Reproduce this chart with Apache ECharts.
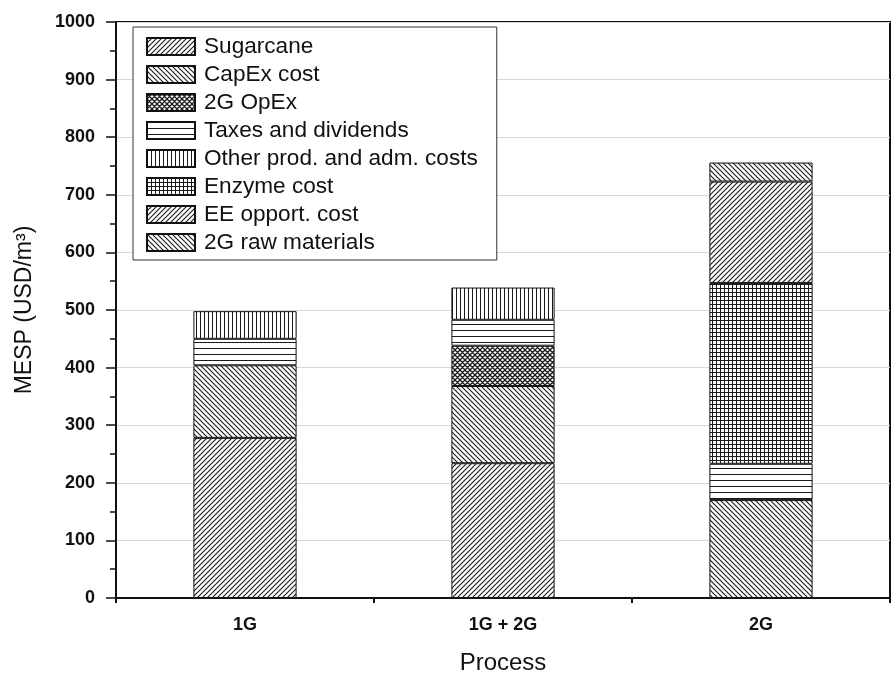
<!DOCTYPE html>
<html>
<head>
<meta charset="utf-8">
<script src="https://cdn.jsdelivr.net/npm/echarts@6/dist/echarts.min.js"></script>
<style>
html,body{margin:0;padding:0;background:#fff;}
#chart{width:892px;height:684px;}
</style>
</head>
<body>
<div id="chart"></div>
<script>
// ---- data ----
var categories = ['1G', '1G + 2G', '2G'];
var seriesNames = ['Sugarcane', 'CapEx cost', '2G OpEx', 'Taxes and dividends',
  'Other prod. and adm. costs', 'Enzyme cost', 'EE opport. cost', '2G raw materials'];
var sugarcane     = [278, 234, null];
var capexCost     = [126, 134, 170];
var opex2G        = [null, 70, null];
var taxesDiv      = [46, 45, 63];
var otherProdAdm  = [48, 56, null];
var enzymeCost    = [null, null, 314];
var eeOpportCost  = [null, null, 176];
var rawMaterials2G= [null, null, 33];
var yTicks = [0, 100, 200, 300, 400, 500, 600, 700, 800, 900, 1000];

// ---- hatch patterns ----
function makePattern(type) {
  var c = document.createElement('canvas');
  var ctx;
  var ink = '#1a1a1a';
  if (type === 'fwd' || type === 'back' || type === 'cross') {
    var s = 5;
    c.width = s; c.height = s;
    ctx = c.getContext('2d');
    ctx.fillStyle = '#fff'; ctx.fillRect(0, 0, s, s);
    ctx.strokeStyle = ink; ctx.lineWidth = type === 'cross' ? 1.3 : 1.1;
    ctx.beginPath();
    if (type === 'fwd' || type === 'cross') {
      ctx.moveTo(-1, s + 1); ctx.lineTo(s + 1, -1);
      ctx.moveTo(-1, 1); ctx.lineTo(1, -1);
      ctx.moveTo(s - 1, s + 1); ctx.lineTo(s + 1, s - 1);
    }
    if (type === 'back' || type === 'cross') {
      ctx.moveTo(-1, -1); ctx.lineTo(s + 1, s + 1);
      ctx.moveTo(s - 1, -1); ctx.lineTo(s + 1, 1);
      ctx.moveTo(-1, s - 1); ctx.lineTo(1, s + 1);
    }
    ctx.stroke();
  } else if (type === 'horiz') {
    c.width = 4; c.height = 6;
    ctx = c.getContext('2d');
    ctx.fillStyle = '#fff'; ctx.fillRect(0, 0, 4, 6);
    ctx.fillStyle = ink; ctx.fillRect(0, 0, 4, 1);
  } else if (type === 'vert') {
    c.width = 4; c.height = 4;
    ctx = c.getContext('2d');
    ctx.fillStyle = '#fff'; ctx.fillRect(0, 0, 4, 4);
    ctx.fillStyle = ink; ctx.fillRect(0, 0, 1, 4);
  } else if (type === 'grid') {
    c.width = 4; c.height = 4;
    ctx = c.getContext('2d');
    ctx.fillStyle = '#fff'; ctx.fillRect(0, 0, 4, 4);
    ctx.fillStyle = ink; ctx.fillRect(0, 0, 4, 1); ctx.fillRect(0, 0, 1, 4);
  }
  return { image: c, repeat: 'repeat' };
}

var patternTypes = ['fwd', 'back', 'cross', 'horiz', 'vert', 'grid', 'fwd', 'back'];
var seriesData = [sugarcane, capexCost, opex2G, taxesDiv, otherProdAdm, enzymeCost, eeOpportCost, rawMaterials2G];

var FONT = "'Liberation Sans', Arial, sans-serif";

var series = seriesNames.map(function (name, i) {
  return {
    name: name,
    type: 'bar',
    stack: 'total',
    xAxisIndex: 0,
    barWidth: '40%',
    data: seriesData[i],
    itemStyle: {
      color: makePattern(patternTypes[i]),
      borderColor: '#111',
      borderWidth: 1
    },
    emphasis: { disabled: true },
    animation: false
  };
});

var chart = echarts.init(document.getElementById('chart'), null, { renderer: 'canvas', devicePixelRatio: 1 });
chart.setOption({
  animation: false,
  backgroundColor: '#fff',
  grid: {
    left: 116, right: 2, top: 22, bottom: 86,
    show: true, borderColor: '#111', borderWidth: 2, backgroundColor: 'transparent'
  },
  legend: {
    orient: 'vertical',
    left: 133, top: 27,
    icon: 'rect',
    itemWidth: 48, itemHeight: 17,
    itemGap: 5,
    padding: [8, 19, 6, 13],
    borderColor: '#333', borderWidth: 1,
    backgroundColor: '#fff',
    selectedMode: false,
    data: seriesNames,
    textStyle: { fontFamily: FONT, fontSize: 22.6, color: '#111', lineHeight: 22, padding: [0, 0, 0, 4] }
  },
  xAxis: [{
    type: 'category',
    data: categories,
    position: 'bottom',
    name: 'Process',
    nameLocation: 'middle',
    nameGap: 53,
    nameTextStyle: { fontFamily: FONT, fontSize: 24, color: '#111' },
    axisLine: { lineStyle: { color: '#111', width: 2 } },
    axisTick: { alignWithLabel: true, length: 10, lineStyle: { color: '#111', width: 2 } },
    axisLabel: { fontFamily: FONT, fontSize: 18, fontWeight: 'bold', color: '#111', margin: 18 },
    splitLine: { show: false }
  }, {
    type: 'category',
    data: categories,
    position: 'bottom',
    axisLine: { show: false },
    axisTick: { show: true, length: 5, lineStyle: { color: '#111', width: 2 } },
    axisLabel: { show: false },
    splitLine: { show: false }
  }],
  yAxis: {
    type: 'value',
    min: yTicks[0], max: yTicks[yTicks.length - 1], interval: yTicks[1] - yTicks[0],
    name: 'MESP (USD/m³)',
    nameLocation: 'middle',
    nameGap: 80,
    nameTextStyle: { fontFamily: FONT, fontSize: 23, color: '#111' },
    axisLine: { show: true, lineStyle: { color: '#111', width: 2 } },
    axisTick: { show: true, length: 10, lineStyle: { color: '#111', width: 1.5 } },
    minorTick: { show: true, splitNumber: 2, length: 6, lineStyle: { color: '#111', width: 1.5 } },
    axisLabel: {
      fontFamily: FONT, fontSize: 18, fontWeight: 'bold', color: '#111', margin: 21,
      formatter: function (v) { return String(v); }
    },
    splitLine: { show: true, lineStyle: { color: '#d8d8d8', width: 1 } }
  },
  series: series
});
</script>
</body>
</html>
